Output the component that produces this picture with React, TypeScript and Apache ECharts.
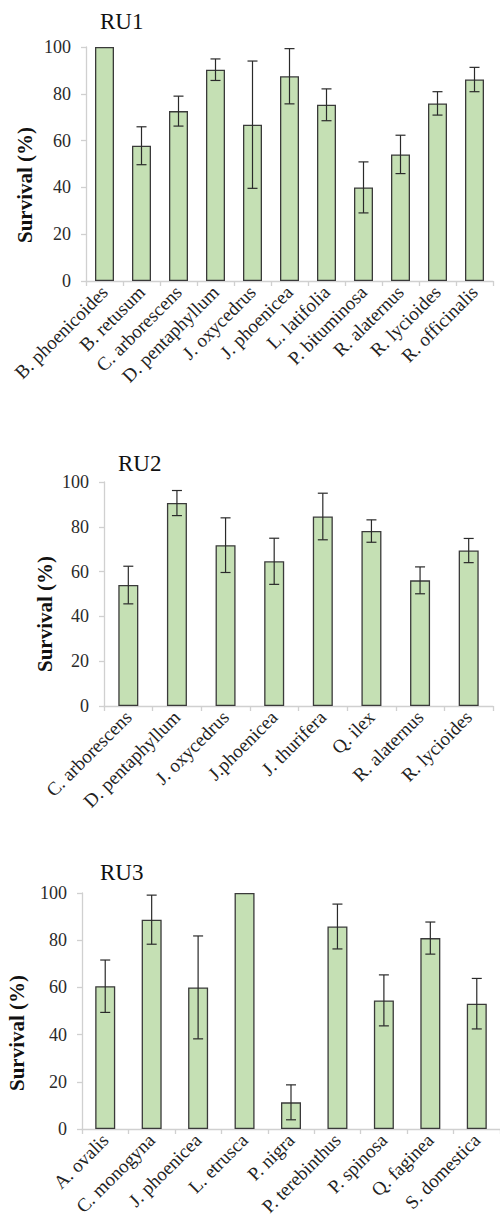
import React, { useEffect, useRef } from "react";
import * as echarts from "echarts";

const titles = ["RU1", "RU2", "RU3"];
const yTitle = "Survival (%)";
const yTicks = { min: 0, max: 100, interval: 20 };

const ru1Species = [
  "B. phoenicoides", "B. retusum", "C. arborescens", "D. pentaphyllum", "J. oxycedrus",
  "J. phoenicea", "L. latifolia", "P. bituminosa", "R. alaternus", "R. lycioides", "R. officinalis",
];
const ru1Mean = [100, 57.8, 72.6, 90.3, 66.8, 87.5, 75.3, 40, 54.1, 75.9, 86.1];
const ru1Err = [0, 8.1, 6.4, 4.6, 27.2, 11.8, 6.8, 10.9, 8.2, 5, 5.2];

const ru2Species = [
  "C. arborescens", "D. pentaphyllum", "J. oxycedrus", "J.phoenicea",
  "J. thurifera", "Q. ilex", "R. alaternus", "R. lycioides",
];
const ru2Mean = [54, 90.6, 71.8, 64.6, 84.6, 78.1, 56.1, 69.4];
const ru2Err = [8.4, 5.6, 12.2, 10.3, 10.4, 5, 6, 5.4];

const ru3Species = [
  "A. ovalis", "C. monogyna", "J. phoenicea", "L. etrusca", "P. nigra",
  "P. terebinthus", "P. spinosa", "Q. faginea", "S. domestica",
];
const ru3Mean = [60.5, 88.7, 60, 100, 11.3, 85.8, 54.5, 80.9, 53.1];
const ru3Err = [11.1, 10.4, 21.8, 0, 7.4, 9.5, 10.8, 6.8, 10.7];

const SERIF = "'Liberation Serif', 'Times New Roman', serif";

const renderErr = (params: any, api: any) => {
  const i = api.value(0);
  const loV = api.value(1);
  const hiV = api.value(2);
  if (hiV - loV <= 0) return null;
  const lo = api.coord([i, loV]);
  const hi = api.coord([i, hiV]);
  const w = 5;
  const style = { stroke: "#2a2a2a", lineWidth: 1.2 };
  return {
    type: "group",
    children: [
      { type: "line", shape: { x1: hi[0], y1: hi[1], x2: lo[0], y2: lo[1] }, style },
      { type: "line", shape: { x1: hi[0] - w, y1: hi[1], x2: hi[0] + w, y2: hi[1] }, style },
      { type: "line", shape: { x1: lo[0] - w, y1: lo[1], x2: lo[0] + w, y2: lo[1] }, style },
    ],
  };
};

export default function App() {
  const ref = useRef<HTMLDivElement>(null);
  useEffect(() => {
    if (!ref.current) return;
    const chart = echarts.init(ref.current, undefined, { renderer: "svg" });
    const panels = [
      { cats: ru1Species, mean: ru1Mean, err: ru1Err, grid: { left: 86, top: 47, width: 407, height: 234 }, barWidth: 19 },
      { cats: ru2Species, mean: ru2Mean, err: ru2Err, grid: { left: 104, top: 482, width: 389, height: 224 }, barWidth: 20 },
      { cats: ru3Species, mean: ru3Mean, err: ru3Err, grid: { left: 82, top: 893, width: 426, height: 236 }, barWidth: 20 },
    ];
    const axisColor = "#d0d0d0";
    const option: any = {
      animation: false,
      grid: panels.map((p) => ({ ...p.grid, containLabel: false })),
      xAxis: panels.map((p, k) => ({
        type: "category",
        gridIndex: k,
        data: p.cats,
        axisLine: { show: true, lineStyle: { color: axisColor, width: 1.3 } },
        axisTick: { show: true, length: 5, lineStyle: { color: axisColor, width: 1.3 } },
        axisLabel: {
          rotate: 45,
          interval: 0,
          margin: 8,
          fontFamily: SERIF,
          fontSize: 19,
          color: "#222",
        },
      })),
      yAxis: panels.map((p, k) => ({
        type: "value",
        gridIndex: k,
        min: yTicks.min,
        max: yTicks.max,
        interval: yTicks.interval,
        splitLine: { show: false },
        axisLine: { show: true, lineStyle: { color: axisColor, width: 1.3 } },
        axisTick: { show: true, length: 5, lineStyle: { color: axisColor, width: 1.3 } },
        axisLabel: { margin: 15, fontFamily: SERIF, fontSize: 18, color: "#2a2a2a" },
      })),
      series: panels.flatMap((p, k) => [
        {
          type: "bar",
          xAxisIndex: k,
          yAxisIndex: k,
          data: p.mean,
          barWidth: p.barWidth,
          itemStyle: { color: "#c5e0b4", borderColor: "#3a3a3a", borderWidth: 1.3 },
        },
        {
          type: "custom",
          xAxisIndex: k,
          yAxisIndex: k,
          renderItem: renderErr,
          encode: { x: 0, y: [1, 2] },
          data: p.mean.map((m, i) => [i, m - p.err[i], m + p.err[i]]),
          z: 5,
        },
      ]),
      graphic: [
        { type: "text", x: 100, y: 21.5, style: { text: titles[0], font: `23px ${SERIF}`, fill: "#111", textVerticalAlign: "middle" } },
        { type: "text", x: 118, y: 463, style: { text: titles[1], font: `23px ${SERIF}`, fill: "#111", textVerticalAlign: "middle" } },
        { type: "text", x: 100, y: 872, style: { text: titles[2], font: `23px ${SERIF}`, fill: "#111", textVerticalAlign: "middle" } },
        { type: "text", x: 25, y: 185, rotation: Math.PI / 2, style: { text: yTitle, font: `bold 21px ${SERIF}`, fill: "#111", textAlign: "center", textVerticalAlign: "middle" } },
        { type: "text", x: 45, y: 614, rotation: Math.PI / 2, style: { text: yTitle, font: `bold 21px ${SERIF}`, fill: "#111", textAlign: "center", textVerticalAlign: "middle" } },
        { type: "text", x: 17, y: 1033, rotation: Math.PI / 2, style: { text: yTitle, font: `bold 21px ${SERIF}`, fill: "#111", textAlign: "center", textVerticalAlign: "middle" } },
      ],
    };
    chart.setOption(option);
    return () => chart.dispose();
  }, []);
  return (
    <div
      ref={ref}
      style={{ position: "absolute", left: 0, top: 0, width: 500, height: 1226, overflow: "hidden", background: "#fff" }}
    />
  );
}
